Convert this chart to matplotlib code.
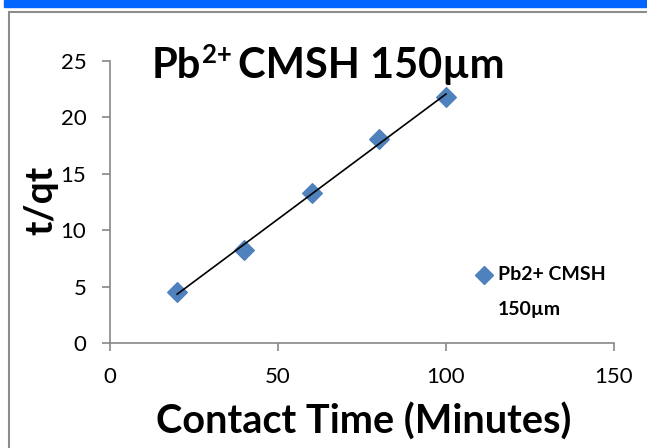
import numpy as np
import matplotlib.pyplot as plt
from matplotlib.patches import Rectangle

plt.rcParams['font.family'] = ['Lato', 'DejaVu Sans']

# data
contact_time = [20, 40, 60, 80, 100]
t_qt = [4.55, 8.25, 13.3, 18.1, 21.8]
series_name = ['Pb2+ CMSH', '150µm']
x_ticks = [0, 50, 100, 150]
y_ticks = [0, 5, 10, 15, 20, 25]

W, H = 647, 448
fig = plt.figure(figsize=(W / 100, H / 100), dpi=100)

def fx(px):
    return px / W

def fy(py):
    return 1 - py / H

# blue band on top and grey chart frame
fig.patches.append(Rectangle((fx(4), fy(7)), 1, 7 / H, transform=fig.transFigure,
                             color='#0066ff', zorder=0))
fig.patches.append(Rectangle((fx(9), -0.1), 1.1, fy(12) + 0.1, transform=fig.transFigure,
                             fill=False, edgecolor='#8c8c8c', linewidth=1.5, zorder=0))

ax = fig.add_axes([fx(110), fy(343), fx(614) - fx(110), fy(61) - fy(343)])

ax.scatter(contact_time, t_qt, marker='D', s=100, color='#4f81bd', zorder=3)

# linear trend line
k, b = np.polyfit(contact_time, t_qt, 1)
xs = np.array([contact_time[0], contact_time[-1]])
ax.plot(xs, k * xs + b, color='black', linewidth=1.2, zorder=4)

ax.set_xlim(0, 150)
ax.set_ylim(0, 25)
ax.set_xticks(x_ticks)
ax.set_yticks(y_ticks)
ax.tick_params(labelsize=16, color='#888888', length=6, width=1.2, direction='out', pad=11)
for s in ['top', 'right']:
    ax.spines[s].set_visible(False)
for s in ['left', 'bottom']:
    ax.spines[s].set_color('#888888')
    ax.spines[s].set_linewidth(1.2)

fig.text(fx(364), fy(422), 'Contact Time (Minutes)', fontsize=28.5, fontweight='bold',
         ha='center', va='center')
fig.text(fx(41), fy(200), 't/qt', rotation=90, fontsize=28, fontweight='bold',
         ha='center', va='center')

# title with superscript, pieces placed one after another
fig.canvas.draw()
r = fig.canvas.get_renderer()
t1 = fig.text(fx(152), fy(78), 'Pb', fontsize=30, fontweight='bold', ha='left', va='baseline')
e1 = t1.get_window_extent(r)
t2 = fig.text(e1.x1 / W + fx(1), fy(63), '2+', fontsize=18.5, fontweight='bold',
              ha='left', va='baseline')
e2 = t2.get_window_extent(r)
fig.text(e2.x1 / W + fx(6), fy(78), 'CMSH 150µm', fontsize=30, fontweight='bold',
         ha='left', va='baseline')

# legend drawn by hand
ax.plot([fx(484)], [fy(275)], marker='D', markersize=9, color='#4f81bd',
        transform=fig.transFigure, clip_on=False)
fig.text(fx(498), fy(275), series_name[0], fontsize=14, fontweight='bold', va='center')
fig.text(fx(498), fy(310), series_name[1], fontsize=14, fontweight='bold', va='center')

fig.savefig('out.png', dpi=100)
